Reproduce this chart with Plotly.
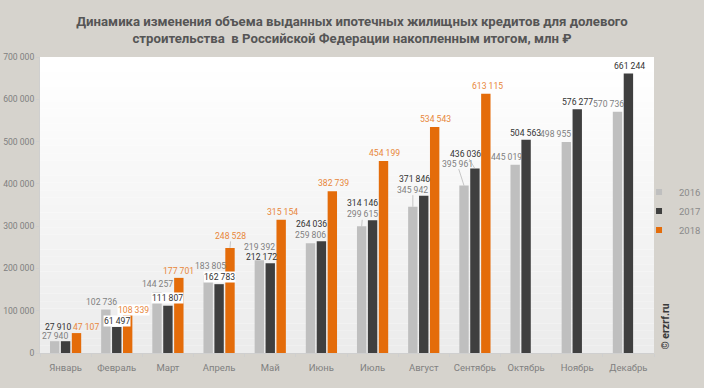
import plotly.graph_objects as go

months = ["Январь", "Февраль", "Март", "Апрель", "Май", "Июнь", "Июль",
          "Август", "Сентябрь", "Октябрь", "Ноябрь", "Декабрь"]
v2016 = [27940, 102736, 144257, 183805, 219392, 259806, 299615, 345942,
         395961, 445019, 498955, 570736]
v2017 = [27910, 61497, 111807, 162783, 212172, 264036, 314146, 371846,
         436036, 504563, 576277, 661244]
v2018 = [47107, 108339, 177701, 248528, 315154, 382739, 454199, 534543,
         613115]
y_ticks = [0, 100000, 200000, 300000, 400000, 500000, 600000, 700000]

# label placement (pixel offsets from bar top), styling only
g_dx = [0, -4, 0, 2, 0, 0, 1, 0, -7, -9, -11, -9]
g_dy = [5, 8, 8, 9, 13, 8, 12, 17, 22, 8, 8, 8]
g_lead = [0, 0, 0, 0, 0, 0, 1, 1, 1, 0, 0, 0]
d_dx = [-8, 0, 0, 0, -9, -10, -10, -9, -9, -1, 0, 1]
d_dy = [14, 6, 8, 7, 6, 17, 17, 17, 15, 7, 7, 7]
d_lead = [0, 0, 0, 0, 0, 0, 0, 0, 1, 0, 0, 0]
o_dx = [10, 6, 0, 1, 1, 1, 1, 1, 2]
o_dy = [6, -3, 7, 12, 8, 8, 8, 8, 8]
o_lead = [0, 0, 0, 1, 0, 0, 0, 0, 0]
# labels drawn on a white box (series index, month index)
boxed = [(1, 1), (1, 2), (1, 3), (2, 1)]

C16, C17, C18 = "#bfbfbf", "#3f3f3f", "#e46c0a"
L16, L17, L18 = "#7f7f7f", "#333333", "#e8873a"

W, H = 704, 388
ML, MR, MT, MB = 40, 50, 57, 35
BARGAP = 0.36

fig = go.Figure()
for name, vals, col in [("2016", v2016, C16), ("2017", v2017, C17), ("2018", v2018, C18)]:
    fig.add_trace(go.Bar(name=name, x=months[:len(vals)], y=vals,
                         marker=dict(color=col, line=dict(width=0)),
                         legendgroup=name, showlegend=False,
                         hoverinfo="x+y"))
    # small square legend entry for the series
    fig.add_trace(go.Scatter(name=name, x=[None], y=[None], mode="markers",
                             marker=dict(symbol="square", size=6, color=col),
                             legendgroup=name, showlegend=True, hoverinfo="skip"))

def fmt(v):
    return f"{v:,}".replace(",", " ")

cat_px = (W - ML - MR) / len(months)
slot = cat_px * (1 - BARGAP) / 3
offs = [-slot, 0, slot]

anns = []
series = [(v2016, g_dx, g_dy, g_lead, L16, offs[0]),
          (v2017, d_dx, d_dy, d_lead, L17, offs[1]),
          (v2018, o_dx, o_dy, o_lead, L18, offs[2])]
for si, (vals, dxs, dys, leads, lc, off) in enumerate(series):
    for i, v in enumerate(vals):
        bg = "#ffffff" if (si, i) in boxed else "rgba(0,0,0,0)"
        anns.append(dict(
            x=months[i], y=v, xref="x", yref="y", xshift=off,
            text=fmt(v), showarrow=True, ax=dxs[i], ay=-dys[i],
            axref="pixel", ayref="pixel",
            arrowhead=0, arrowwidth=0.7, standoff=0, startstandoff=0,
            arrowcolor="#b0b0b0" if leads[i] else "rgba(0,0,0,0)",
            font=dict(family="Roboto, sans-serif", size=8.6, color=lc),
            bgcolor=bg, borderpad=0))

anns.append(dict(x=1.0, y=0.0, xref="paper", yref="paper", xanchor="left",
                 yanchor="bottom", xshift=2, yshift=1, textangle=-90,
                 text="<b>© erzrf.ru</b>", showarrow=False,
                 font=dict(family="Roboto, sans-serif", size=10.5, color="#3a3a3a")))

# vertical background gradient for the plot area
shapes = []
n = 40
for k in range(n):
    t = k / (n - 1)
    c = int(round(236 + (255 - 236) * t))
    shapes.append(dict(type="rect", xref="paper", yref="paper",
                       x0=0, x1=1, y0=k / n, y1=(k + 1) / n,
                       fillcolor=f"rgb({c},{c},{c})", line=dict(width=0),
                       layer="below"))

fig.update_layout(
    width=W, height=H,
    margin=dict(l=ML, r=MR, t=MT, b=MB, pad=0, autoexpand=False),
    paper_bgcolor="#d6d3cd", plot_bgcolor="#ffffff",
    barmode="group", bargap=BARGAP, bargroupgap=0.14,
    separators=", ",
    title=dict(text="<b>Динамика изменения объема выданных ипотечных жилищных кредитов для долевого<br>"
                    "строительства  в Российской Федерации накопленным итогом, млн ₽</b>",
               x=0.5, xref="container", xanchor="center",
               y=1 - 25.5 / H, yref="container", yanchor="middle",
               font=dict(family="Roboto, sans-serif", size=13.2, color="#555555")),
    font=dict(family="Roboto, sans-serif", color="#777777"),
    legend=dict(x=0.9756, xref="paper", xanchor="left",
                y=0.48, yanchor="middle", bgcolor="rgba(0,0,0,0)",
                font=dict(size=9.5, color="#8a8a8a"), itemclick=False,
                itemdoubleclick=False, tracegroupgap=0),
    shapes=shapes, annotations=anns,
    xaxis=dict(type="category", categoryorder="array", categoryarray=months,
               showgrid=False, showline=True, linecolor="#cfcfcf", linewidth=1,
               ticks="outside", tickson="boundaries", ticklen=3, tickcolor="#cfcfcf",
               tickfont=dict(size=9.5, color="#808080"), ticklabelstandoff=6,
               tickangle=0, automargin=False, fixedrange=True),
    yaxis=dict(range=[0, 700000], tickvals=y_ticks, tickformat=",d",
               showgrid=False, zeroline=False, showline=True, linecolor="#cfcfcf",
               ticks="outside", ticklen=3, tickcolor="#cfcfcf", automargin=False,
               tickfont=dict(size=8.6, color="#808080"), fixedrange=True),
)

fig.write_html("out.html", config={"displayModeBar": False},
               post_script="document.body.style.margin='0';"
                           "document.body.style.overflow='hidden';")
